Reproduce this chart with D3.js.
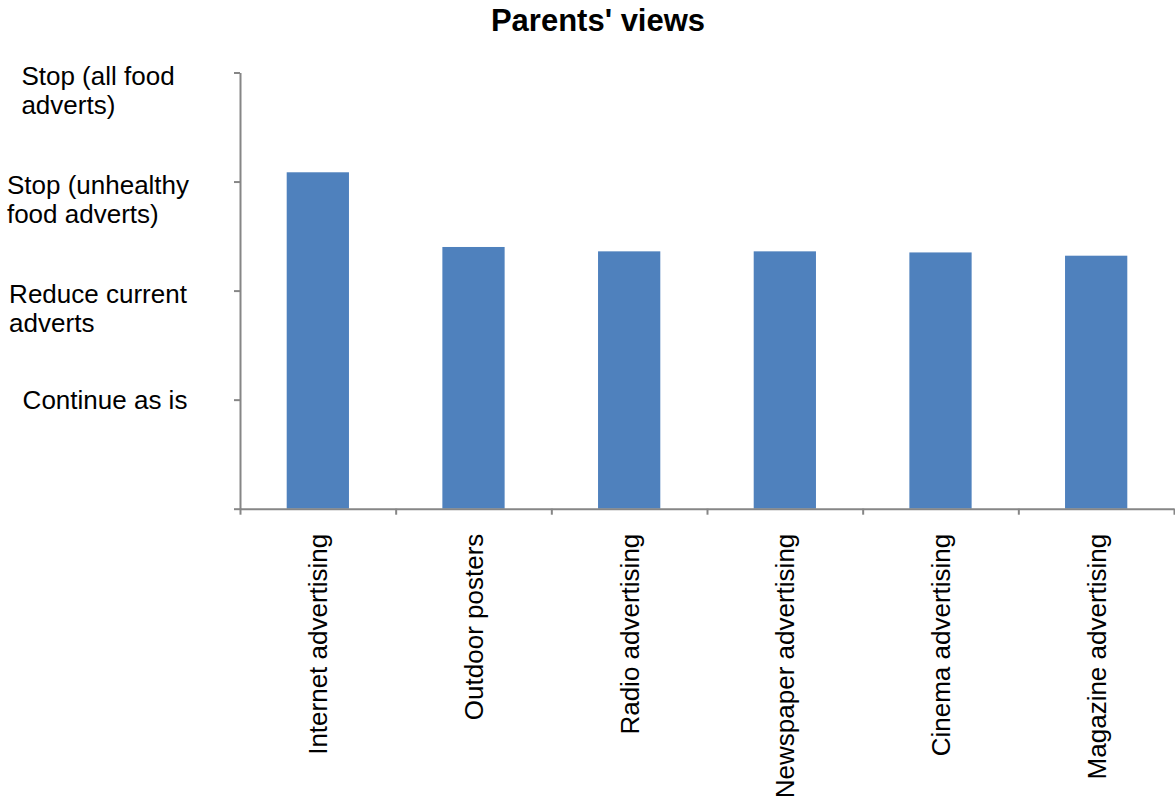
<!DOCTYPE html>
<html>
<head>
<meta charset="utf-8">
<script src="https://cdn.jsdelivr.net/npm/d3@7"></script>
<style>
  html, body { margin: 0; padding: 0; background: #ffffff; }
  svg { display: block; font-family: "Liberation Sans", Arial, Helvetica, sans-serif; }
</style>
</head>
<body>
<svg id="chart" width="1175" height="803"></svg>
<script>
// Media channels surveyed
const categories = [
  "Internet advertising",
  "Outdoor posters",
  "Radio advertising",
  "Newspaper advertising",
  "Cinema advertising",
  "Magazine advertising"
];

// Average parent response on the 0–4 scale
const values = [3.085, 2.40, 2.36, 2.36, 2.35, 2.32];

// Response scale (tick value -> wrapped label lines)
const scaleTicks = [1, 2, 3, 4];
const scaleLabels = [
  ["Continue as is"],
  ["Reduce current", "adverts"],
  ["Stop (unhealthy", "food adverts)"],
  ["Stop (all food", "adverts)"]
];

const title = "Parents' views";

const svg = d3.select("#chart");
const plot = { left: 240, right: 1174, top: 72.5, bottom: 508.7 };
const axisColor = "#868686";
const barColor = "#4F81BD";
const fontSize = 26;

const y = d3.scaleLinear().domain([0, 4]).range([plot.bottom, plot.top]);
const x = d3.scaleBand()
  .domain(categories)
  .range([plot.left, plot.right])
  .paddingInner(0.6)
  .paddingOuter(0.3);

// Category boundaries for the x tick marks
const xEdge = d3.scaleLinear().domain([0, categories.length]).range([plot.left, plot.right]);

// Title
svg.append("text")
  .attr("x", 598)
  .attr("y", 31)
  .attr("text-anchor", "middle")
  .attr("font-size", 31)
  .attr("font-weight", "bold")
  .attr("fill", "#000")
  .text(title);

// Bars
svg.append("g")
  .selectAll("rect")
  .data(values)
  .join("rect")
  .attr("x", (d, i) => x(categories[i]))
  .attr("y", d => y(d))
  .attr("width", x.bandwidth())
  .attr("height", d => y(0) - y(d))
  .attr("fill", barColor);

// Y axis
const yAxis = svg.append("g")
  .attr("transform", `translate(${plot.left},0)`)
  .call(d3.axisLeft(y).tickValues([0, ...scaleTicks]).tickSize(6).tickSizeOuter(0).tickFormat(""));
yAxis.selectAll("path, line").attr("stroke", axisColor).attr("stroke-width", 2);

// X axis
const xAxis = svg.append("g")
  .attr("transform", `translate(0,${plot.bottom})`)
  .call(d3.axisBottom(xEdge).tickValues(d3.range(categories.length + 1)).tickSize(6).tickSizeOuter(0).tickFormat(""));
xAxis.selectAll("path, line").attr("stroke", axisColor).attr("stroke-width", 2);

// Y tick labels: wrapped, lines left-aligned, block centred in the label column
const lineH = 28.5;
const yLabels = svg.append("g").attr("font-size", fontSize).attr("fill", "#000");
scaleTicks.forEach((t, i) => {
  const lines = scaleLabels[i];
  const single = lines.length === 1;
  const g = yLabels.append("g");
  const txt = g.append("text");
  const firstBaseline = single ? y(t) + fontSize * 0.36 : y(t) + 12.5;
  lines.forEach((ln, k) => {
    txt.append("tspan")
      .attr("x", 0)
      .attr("y", firstBaseline + k * lineH)
      .text(ln);
  });
  const w = d3.max(txt.selectAll("tspan").nodes(), n => n.getComputedTextLength());
  const centre = single ? 105 : 98;
  g.attr("transform", `translate(${centre - w / 2},0)`);
});

// X category labels, rotated
svg.append("g")
  .attr("font-size", fontSize)
  .attr("fill", "#000")
  .selectAll("text")
  .data(categories)
  .join("text")
  .attr("text-anchor", "end")
  .attr("transform", d => `translate(${x(d) + x.bandwidth() / 2 + 9.5},${plot.bottom + 25}) rotate(-90)`)
  .text(d => d);
</script>
</body>
</html>
